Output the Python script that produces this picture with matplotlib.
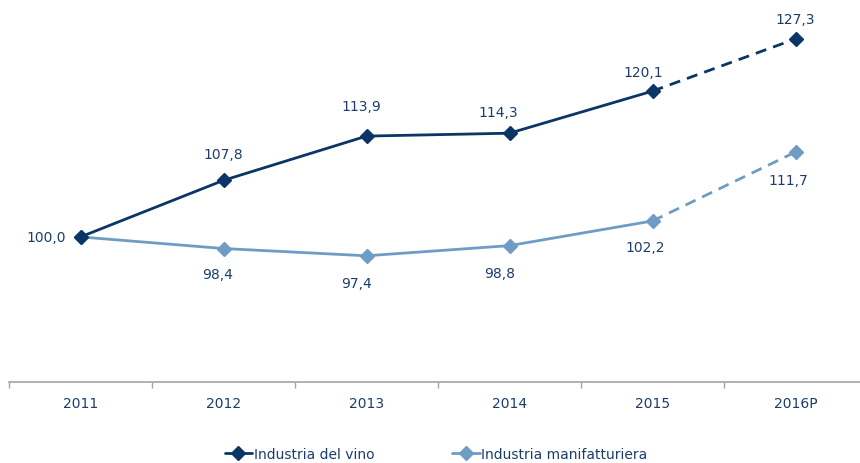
import numpy as np
import matplotlib.pyplot as plt

years = ["2011", "2012", "2013", "2014", "2015", "2016P"]
vino = [100.0, 107.8, 113.9, 114.3, 120.1, 127.3]
manif = [100.0, 98.4, 97.4, 98.8, 102.2, 111.7]

DARK = "#0b3566"
LIGHT = "#6f9cc4"
TEXT = "#1c3d6b"

plt.rcParams['font.family'] = ['DejaVu Sans']

fig = plt.figure(figsize=(8.6, 4.64), dpi=100)
ax = fig.add_axes([9 / 860, 1 - 383 / 464, 858 / 860, 383 / 464])

x = np.arange(len(years))

def draw(vals, color, label):
    # solid for actual years, dashed for the forecast
    ax.plot(x[:5], vals[:5], color=color, lw=2.0, marker='D', ms=7,
            solid_capstyle='round', label=label)
    ax.plot(x[4:], vals[4:], color=color, lw=2.0, ls=(0, (4, 2.6)),
            marker='D', ms=7, markevery=[1])

draw(manif, LIGHT, "Industria manifatturiera")
draw(vino, DARK, "Industria del vino")

def fmt(v):
    return f"{v:.1f}".replace('.', ',')

# label offsets in pixels, (dx, dy)
vino_off = [(-34, 0), (0, 26), (-5, 30), (-11, 21), (-9, 19), (0, 20)]
manif_off = [None, (-6, -25), (-10, -27), (-10, -27), (-7, -26), (-7, -28)]

for i, v in enumerate(vino):
    ax.annotate(fmt(v), (x[i], v), xytext=vino_off[i], textcoords='offset pixels',
                ha='center', va='center', color=TEXT, fontsize=10)
for i, v in enumerate(manif):
    if manif_off[i] is None:
        continue
    ax.annotate(fmt(v), (x[i], v), xytext=manif_off[i], textcoords='offset pixels',
                ha='center', va='center', color=TEXT, fontsize=10)

ax.set_xlim(-0.5, 5.5)
ax.set_ylim(80, 132.8)
ax.set_yticks([])
for s in ['top', 'right', 'left']:
    ax.spines[s].set_visible(False)
ax.spines['bottom'].set_color('#a3a3ab')
ax.spines['bottom'].set_linewidth(1.2)

ax.set_xticks(x)
ax.set_xticklabels(years, color=TEXT, fontsize=10)
ax.tick_params(axis='x', which='major', length=0, pad=10)
ax.set_xticks(np.arange(-0.5, 6, 1), minor=True)
ax.tick_params(axis='x', which='minor', length=4, color='#a3a3ab', width=1)

handles, labels = ax.get_legend_handles_labels()
fig.legend(handles[::-1], labels[::-1], loc='center', bbox_to_anchor=(0.507, 0.02),
           ncol=2, frameon=False, fontsize=10, labelcolor=TEXT,
           handlelength=2.0, handletextpad=0.1, columnspacing=5.6)

fig.savefig("out.png", dpi=100)
